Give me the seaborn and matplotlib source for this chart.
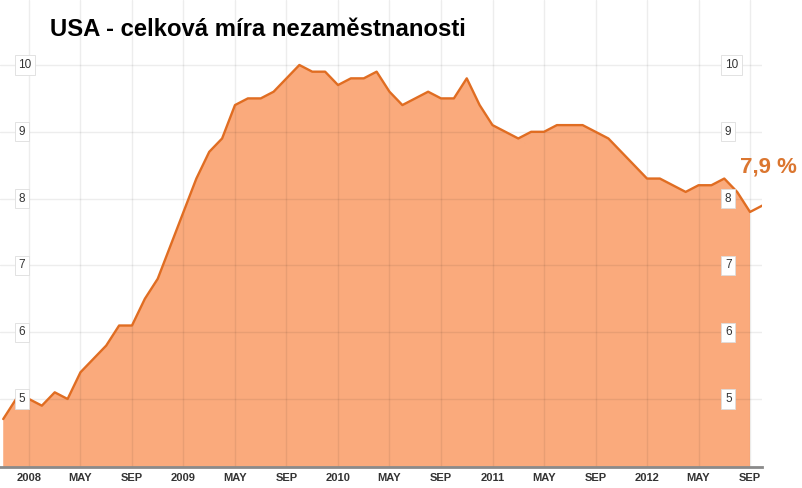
import matplotlib
matplotlib.use("Agg")
import matplotlib.pyplot as plt
import matplotlib.transforms as mtransforms
import seaborn as sns
import numpy as np

# Monthly US unemployment rate, Nov 2007 .. Oct 2012
RATE = [
    4.7, 5.0,
    5.0, 4.9, 5.1, 5.0, 5.4, 5.6, 5.8, 6.1, 6.1, 6.5, 6.8, 7.3,
    7.8, 8.3, 8.7, 8.9, 9.4, 9.5, 9.5, 9.6, 9.8, 10.0, 9.9, 9.9,
    9.7, 9.8, 9.8, 9.9, 9.6, 9.4, 9.5, 9.6, 9.5, 9.5, 9.8, 9.4,
    9.1, 9.0, 8.9, 9.0, 9.0, 9.1, 9.1, 9.1, 9.0, 8.9, 8.7, 8.5,
    8.3, 8.3, 8.2, 8.1, 8.2, 8.2, 8.3, 8.1, 7.8, 7.9,
]
MONTH = list(range(len(RATE)))
FILL_END = 58  # shaded area stops at Sep 2012

TICK_POS = list(range(2, 59, 4))
TICK_LABELS = ["2008", "MAY", "SEP", "2009", "MAY", "SEP", "2010", "MAY", "SEP",
               "2011", "MAY", "SEP", "2012", "MAY", "SEP"]
Y_LEVELS = [5, 6, 7, 8, 9, 10]

TITLE = "USA - celková míra nezaměstnanosti"
LAST_LABEL = "7,9 %"

FILL_COLOR = "#FAAA7C"
LINE_COLOR = "#E06D22"
TEXT_ORANGE = "#DB7630"

sns.set_style("white")
plt.rcParams["font.family"] = ["Liberation Sans", "DejaVu Sans"]

fig = plt.figure(figsize=(8.03, 4.88), dpi=100)
ax = fig.add_axes([0, 21 / 488, 762 / 803, 467 / 488])

ax.fill_between(MONTH[:FILL_END + 1], RATE[:FILL_END + 1], 0,
                color=FILL_COLOR, linewidth=0, zorder=1)
sns.lineplot(x=MONTH, y=RATE, ax=ax, color=LINE_COLOR, linewidth=1.7, zorder=4)

ax.set_xlim(-0.25, 58.93)
ax.set_ylim(3.982, 10.973)

# grid over the fill, faint
for m in TICK_POS:
    ax.axvline(m, color="black", alpha=0.07, linewidth=1, zorder=2)
for v in Y_LEVELS:
    ax.axhline(v, color="black", alpha=0.07, linewidth=1, zorder=2)

ax.set_xticks(TICK_POS)
ax.set_xticklabels(TICK_LABELS, fontsize=8, fontweight="bold", color="#333333")
ax.tick_params(axis="x", length=0, pad=4)
ax.set_yticks([])
ax.set_xlabel("")
ax.set_ylabel("")

for s in ["left", "right", "top"]:
    ax.spines[s].set_visible(False)
ax.spines["bottom"].set_color("#8a8a8a")
ax.spines["bottom"].set_linewidth(2)
ax.spines["bottom"].set_zorder(5)

# y labels inside the plot, left and right
trans = mtransforms.blended_transform_factory(ax.transAxes, ax.transData)
box = dict(boxstyle="square,pad=0.3", facecolor="white", edgecolor="#dddddd", linewidth=0.6)
for v in Y_LEVELS:
    ax.text(18.5 / 762, v, str(v), transform=trans, ha="left", va="center",
            fontsize=8.5, color="#333333", bbox=box, zorder=6)
    ax.text(725 / 762, v, str(v), transform=trans, ha="left", va="center",
            fontsize=8.5, color="#333333", bbox=box, zorder=6)

fig.text(50 / 803, 1 - 36 / 488, TITLE, ha="left", va="baseline",
         fontsize=17.2, fontweight="bold", color="black")
fig.text(740 / 803, 1 - 172 / 488, LAST_LABEL, ha="left", va="baseline",
         fontsize=16, fontweight="bold", color=TEXT_ORANGE)

fig.savefig("out.png", dpi=100)
